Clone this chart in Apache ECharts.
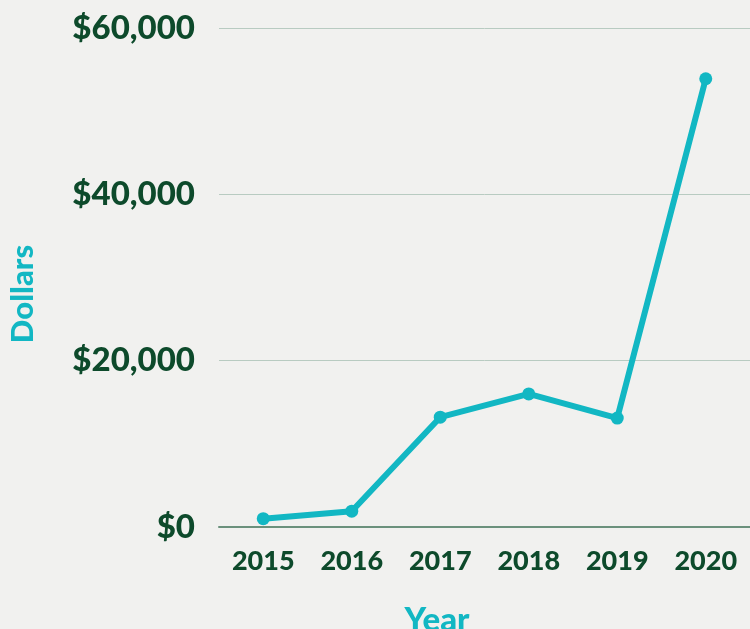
<!DOCTYPE html>
<html>
<head>
<meta charset="utf-8">
<script src="https://cdn.jsdelivr.net/npm/echarts@6/dist/echarts.min.js"></script>
<style>
    html, body { margin: 0; padding: 0; background: #f1f1ef; }
    #chart { width: 750px; height: 629px; }
</style>
</head>
<body>
<div id="chart"></div>
<script>
// Data
var years = ['2015', '2016', '2017', '2018', '2019', '2020'];
var dollars = [1000, 1900, 13200, 16000, 13100, 53900];

var darkGreen = '#0d4a2b';
var teal = '#12b7c3';

var chart = echarts.init(document.getElementById('chart'));

chart.setOption({
    backgroundColor: '#f1f1ef',
    animation: false,

    grid: {
        left: 219,
        right: -4,
        top: 28,
        bottom: 102
    },

    xAxis: {
        type: 'category',
        data: years,
        boundaryGap: true,
        axisLine: { show: true, lineStyle: { color: '#6b917c', width: 2 } },
        axisTick: { show: false },
        axisLabel: {
            color: darkGreen,
            fontFamily: 'Lato',
            fontWeight: 900,
            fontSize: 27,
            margin: 21
        }
    },

    yAxis: {
        type: 'value',
        min: 0,
        max: 60000,
        interval: 20000,
        axisLine: { show: false },
        axisTick: { show: false },
        splitLine: { lineStyle: { color: '#b8cbc1', width: 1 } },
        axisLabel: {
            color: darkGreen,
            fontFamily: 'Lato',
            fontWeight: 900,
            fontSize: 33,
            margin: 24,
            formatter: function(v) {
                return '$' + v.toLocaleString('en-US');
            }
        }
    },

    // Axis titles
    graphic: [{
        type: 'text',
        rotation: Math.PI / 2,
        x: 23,
        y: 294,
        style: {
            text: 'Dollars',
            fill: teal,
            font: '900 31px Lato',
            align: 'center',
            verticalAlign: 'middle'
        }
    }, {
        type: 'text',
        x: 437,
        y: 620,
        style: {
            text: 'Year',
            fill: teal,
            font: '900 33px Lato',
            align: 'center',
            verticalAlign: 'middle'
        }
    }],

    series: [{
        name: 'Dollars',
        type: 'line',
        data: dollars,
        symbol: 'circle',
        symbolSize: 13,
        lineStyle: { color: teal, width: 6 },
        itemStyle: { color: teal }
    }]
});
</script>
</body>
</html>
